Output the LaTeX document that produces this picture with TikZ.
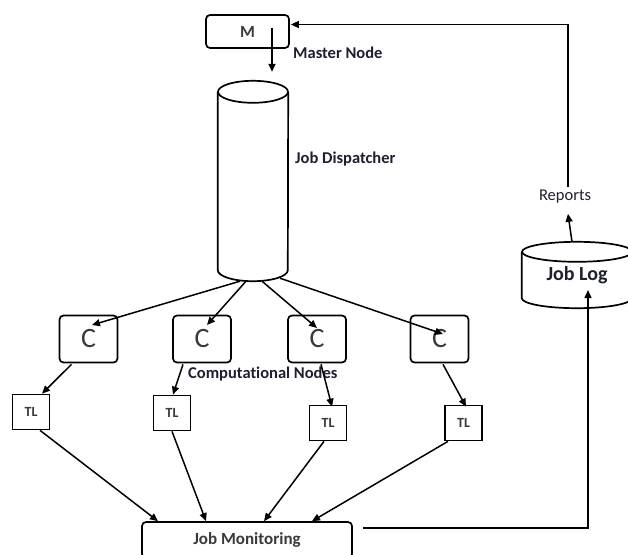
\documentclass[tikz,border=0pt]{standalone}
\usepackage{fontspec}
\setmainfont{Carlito}[Ligatures={NoCommon}]
\usetikzlibrary{arrows.meta,calc}
\definecolor{ink}{HTML}{1E2030}
\definecolor{boxtext}{HTML}{3A3A3A}
\begin{document}
\begin{tikzpicture}[x=1pt,y=-1pt,
  every node/.style={text=ink, inner sep=0pt},
  lbl/.style={font=\fontsize{16.5}{19}\selectfont\bfseries, anchor=west},
  rbox/.style={draw=black, line width=1.7pt, rounded corners=4pt, text=boxtext},
  tlbox/.style={draw=black, line width=1.7pt, minimum width=37pt, minimum height=35pt, text=boxtext, font=\fontsize{14}{16}\selectfont\bfseries},
  cbox/.style={rbox, minimum width=58pt, minimum height=47pt, font=\fontsize{28}{30}\selectfont},
  outline/.style={line width=1.7pt},
  wire/.style={line width=1.5pt, -{Triangle[length=8pt,width=7pt]}},
  ]
\useasboundingbox (0,0) rectangle (628,554);
\fill[white] (0,0) rectangle (628,554);
\clip (0,0) rectangle (628,554);

% master node
\node[rbox, minimum width=83pt, minimum height=33pt, font=\fontsize{17}{20}\selectfont\bfseries] (m) at (247.5,31.5) {M};

% job dispatcher (vertical cylinder)
\node[minimum width=70pt, minimum height=200pt] (disp) at (253,181) {};
\draw[outline] ($(disp.north)+(0,11)$) ellipse [x radius=35pt, y radius=11pt];
\draw[outline] ($(disp.north west)+(0,11)$) -- ($(disp.south west)+(0,-11)$)
  arc[start angle=180, end angle=360, x radius=35pt, y radius=11pt]
  -- ($(disp.north east)+(0,11)$);

% job log (cylinder)
\node[minimum width=110pt, minimum height=66pt, font=\fontsize{20}{24}\selectfont\bfseries] (jlog) at (577,275) {\raisebox{-5pt}{Job Log}};
\draw[outline] ($(jlog.north)+(0,10)$) ellipse [x radius=55pt, y radius=10pt];
\draw[outline] ($(jlog.north west)+(0,10)$) -- ($(jlog.south west)+(0,-10)$)
  arc[start angle=180, end angle=360, x radius=55pt, y radius=10pt]
  -- ($(jlog.north east)+(0,10)$);

% computational nodes
\node[cbox] (c1) at (88.5,339) {C};
\node[cbox] (c2) at (202,339) {C};
\node[cbox] (c3) at (317,339) {C};
\node[cbox] (c4) at (439.5,339) {C};

% task loggers
\node[tlbox] (t1) at (31,412) {TL};
\node[tlbox] (t2) at (172,413) {TL};
\node[tlbox] (t3) at (328,423) {TL};
\node[tlbox] (t4) at (463.5,423) {TL};

% job monitoring
\node[rbox, minimum width=210pt, minimum height=36pt, font=\fontsize{17}{20}\selectfont\bfseries] (jm) at (247,540) {Job Monitoring};

% labels
\node[lbl] (mlabel) at (293,53) {Master Node};
\node[lbl] (dlabel) at (295,159) {Job Dispatcher};
\node[lbl] (clabel) at (188,374) {Computational Nodes};
\node[font=\fontsize{16.5}{19}\selectfont] (rep) at (565,197) {Reports};

% connectors
\draw[wire] ($(m.center)+(24.5,-4)$) -- ($(disp.north)+(19,-9)$);

\draw[wire] ($(disp.south)+(-13,0)$) -- ($(c1.center)+(3.5,-14)$);
\draw[wire] ($(disp.south)+(-7,0)$) -- ($(c2.center)+(5,-14)$);
\draw[wire] ($(disp.south)+(9,0)$) -- ($(c3.center)+(0,-11)$);
\draw[wire] ($(disp.south)+(27,-3)$) -- ($(c4.center)+(3.5,-5)$);

\draw[wire] ($(c1.south)+(-17,1)$) -- ($(t1.north)+(11,0)$);
\draw[wire] ($(c2.south)+(-19,1)$) -- ($(t2.north)+(1,0)$);
\draw[wire] ($(c3.south)+(4,1)$) -- ($(t3.north)+(4,2)$);
\draw[wire] ($(c4.south)+(3.5,1)$) -- ($(t4.north)+(2.5,2)$);

\draw[wire] ($(t1.south)+(9,0)$) -- ($(jm.north)+(-89,0)$);
\draw[wire] ($(t2.south)+(0,0)$) -- ($(jm.north)+(-41,0)$);
\draw[wire] ($(t3.south)+(-4,0)$) -- ($(jm.north)+(17,0)$);
\draw[wire] ($(t4.south)+(-15.5,0)$) -- ($(jm.north)+(65,0)$);

\draw[wire] ($(jm.east)+(10,-12)$) -| ($(jlog.center)+(11,15)$);
\draw[wire] ($(jlog.north)+(-5,0)$) -- ($(rep.south)+(3,10)$);
\draw[wire] ($(rep.north)+(3,-3)$) |- ($(m.east)+(1,-7)$);
\end{tikzpicture}
\end{document}
